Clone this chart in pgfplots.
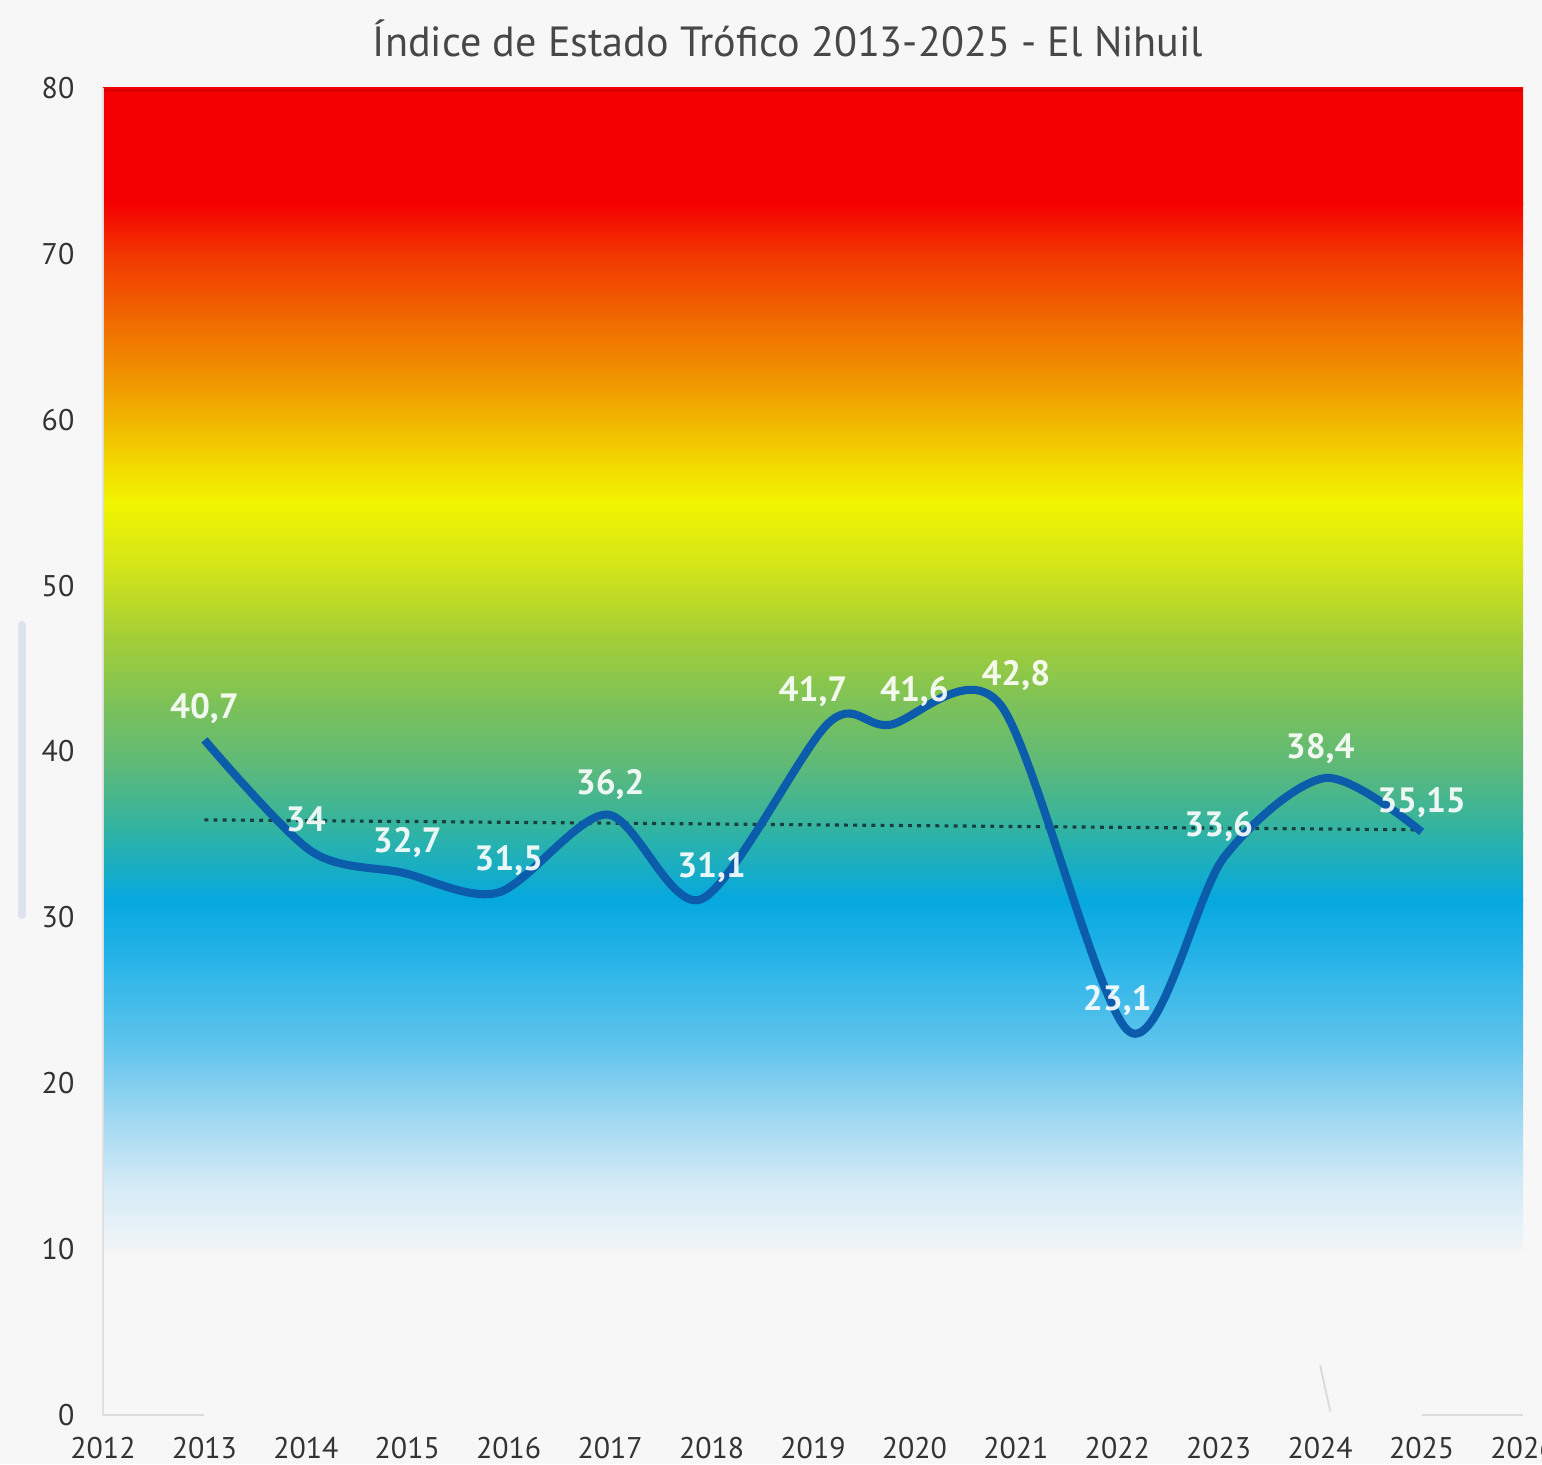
\documentclass[border=0pt]{standalone}
\usepackage{fontspec}
\setmainfont{PT Sans}
\usepackage{pgfplots}
\pgfplotsset{compat=1.18}
\usetikzlibrary{backgrounds}

\definecolor{bgc}{HTML}{F7F7F7}
\definecolor{ticktxt}{HTML}{333333}
\definecolor{lineblue}{HTML}{0B5CAB}
\definecolor{trend}{HTML}{17403F}
\definecolor{sidebar}{HTML}{DCE3EC}
% gradient stops (value -> colour)
\definecolor{g80}{HTML}{F50000}
\definecolor{g73}{HTML}{F50000}
\definecolor{g70}{HTML}{F23500}
\definecolor{g66}{HTML}{F06A00}
\definecolor{g62}{HTML}{F09A00}
\definecolor{g58}{HTML}{F2D000}
\definecolor{g55}{HTML}{F2F500}
\definecolor{g51}{HTML}{D2E41A}
\definecolor{g47}{HTML}{A6CF35}
\definecolor{g43}{HTML}{7EC257}
\definecolor{g39}{HTML}{5CB97A}
\definecolor{g35}{HTML}{2EB3A6}
\definecolor{g31}{HTML}{05A8E0}
\definecolor{g27}{HTML}{2BB5E8}
\definecolor{g22}{HTML}{62C5EC}
\definecolor{g18}{HTML}{9ED7F1}
\definecolor{g14}{HTML}{D2EAF6}
\definecolor{g10}{HTML}{F2F5F7}

\tikzset{
    band/.style n args={2}{bottom color=#1, top color=#2, draw=none},
    lbl/.style={text=white, text opacity=0.9, font=\fontsize{10}{11}\selectfont\bfseries, inner sep=0pt}
}

\begin{document}
\begin{tikzpicture}
\begin{axis}[name=ax, at={(0,0)}, anchor=south west,
    scale only axis, width=14.2cm, height=13.27cm,
    xmin=2012, xmax=2026, ymin=0, ymax=80,
    xtick={2012,2013,...,2026}, ytick={0,10,...,80},
    axis line style={draw=none}, major tick length=0pt,
    clip=false,
    /pgf/number format/assume math mode=true,
    xticklabel style={/pgf/number format/1000 sep={}, anchor=north, inner sep=0pt, yshift=-0.22cm,
        text=ticktxt, font=\fontsize{8.5}{9}\selectfont},
    yticklabel style={anchor=east, inner sep=0pt, xshift=-0.28cm,
        text=ticktxt, font=\fontsize{8.5}{9}\selectfont},
  ]
  % background colour scale of the trophic index
  \shade[band={g73}{g80}] (axis cs:2012,73) rectangle (axis cs:2026,80);
  \shade[band={g70}{g73}] (axis cs:2012,70) rectangle (axis cs:2026,73.1);
  \shade[band={g66}{g70}] (axis cs:2012,66) rectangle (axis cs:2026,70.1);
  \shade[band={g62}{g66}] (axis cs:2012,62) rectangle (axis cs:2026,66.1);
  \shade[band={g58}{g62}] (axis cs:2012,58) rectangle (axis cs:2026,62.1);
  \shade[band={g55}{g58}] (axis cs:2012,55) rectangle (axis cs:2026,58.1);
  \shade[band={g51}{g55}] (axis cs:2012,51) rectangle (axis cs:2026,55.1);
  \shade[band={g47}{g51}] (axis cs:2012,47) rectangle (axis cs:2026,51.1);
  \shade[band={g43}{g47}] (axis cs:2012,43) rectangle (axis cs:2026,47.1);
  \shade[band={g39}{g43}] (axis cs:2012,39) rectangle (axis cs:2026,43.1);
  \shade[band={g35}{g39}] (axis cs:2012,35) rectangle (axis cs:2026,39.1);
  \shade[band={g31}{g35}] (axis cs:2012,31) rectangle (axis cs:2026,35.1);
  \shade[band={g27}{g31}] (axis cs:2012,27) rectangle (axis cs:2026,31.1);
  \shade[band={g22}{g27}] (axis cs:2012,22) rectangle (axis cs:2026,27.1);
  \shade[band={g18}{g22}] (axis cs:2012,18) rectangle (axis cs:2026,22.1);
  \shade[band={g14}{g18}] (axis cs:2012,14) rectangle (axis cs:2026,18.1);
  \shade[band={g10}{g14}] (axis cs:2012,9.9) rectangle (axis cs:2026,14.1);
  \draw[line width=0.6pt, draw=red!80!black, opacity=0.6] (axis cs:2012,79.85) -- (axis cs:2026,79.85);
  % faint axis lines
  \draw[line width=0.7pt, draw=black!12] (axis cs:2012,0) -- (axis cs:2012,80);
  \draw[line width=0.7pt, draw=black!14] (axis cs:2012,0) -- (axis cs:2013,0);
  \draw[line width=0.7pt, draw=black!14] (axis cs:2025,0) -- (axis cs:2026,0);
  \draw[line width=0.5pt, draw=black!15] (axis cs:2024.0,3) -- (axis cs:2024.1,0.2);

  % trend line
  \addplot[line width=0.9pt, trend, dash pattern=on 1.1pt off 1.5pt] coordinates {
    (2013,35.88) (2025,35.28)
  };
  % Índice de Estado Trófico
  \addplot[smooth, tension=0.5, line width=2.3pt, lineblue] coordinates {
    (2013.00,40.7)
    (2014.05,34.0)
    (2014.95,32.7)
    (2015.90,31.5)
    (2016.97,36.2)
    (2017.90,31.1)
    (2019.15,41.7)
    (2019.75,41.6)
    (2020.85,42.8)
    (2022.12,23.1)
    (2023.05,33.6)
    (2024.05,38.4)
    (2025.00,35.15)
  };

  \node[lbl] at (axis cs:2013,42.6) {40,7};
  \node[lbl] at (axis cs:2014,35.9) {34};
  \node[lbl] at (axis cs:2015,34.5) {32,7};
  \node[lbl] at (axis cs:2016,33.45) {31,5};
  \node[lbl] at (axis cs:2017,38.0) {36,2};
  \node[lbl] at (axis cs:2018,33.0) {31,1};
  \node[lbl] at (axis cs:2019,43.6) {41,7};
  \node[lbl] at (axis cs:2020,43.6) {41,6};
  \node[lbl] at (axis cs:2021,44.6) {42,8};
  \node[lbl] at (axis cs:2022,25.0) {23,1};
  \node[lbl] at (axis cs:2023,35.5) {33,6};
  \node[lbl] at (axis cs:2024,40.2) {38,4};
  \node[lbl] at (axis cs:2025,36.95) {35,15};
\end{axis}

\node[text=black!72, font=\fontsize{12}{13}\selectfont] at (6.85,13.77) {Índice de Estado Trófico 2013-2025 - El Nihuil};
\draw[line width=0.08cm, draw=sidebar, line cap=round] (-0.81,5.0) -- (-0.81,7.9);

\pgfresetboundingbox
\path (-1.03,-0.49) rectangle (14.39,14.15);
\begin{scope}[on background layer]
  \fill[bgc] (-1.03,-0.49) rectangle (14.39,14.15);
\end{scope}
\end{tikzpicture}
\end{document}
